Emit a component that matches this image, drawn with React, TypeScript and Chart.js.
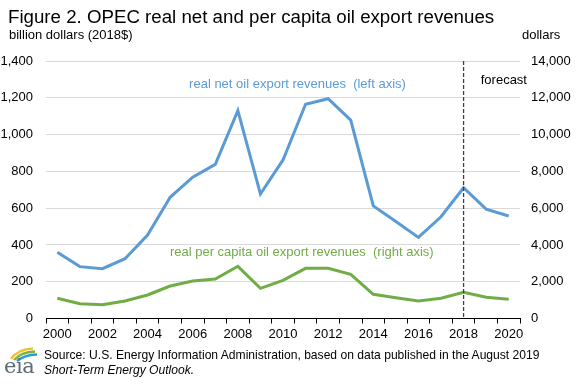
import React, { useEffect, useRef } from "react";
import { Chart, registerables } from "chart.js";

Chart.register(...registerables);

const years = [
  "2000", "2001", "2002", "2003", "2004", "2005", "2006", "2007", "2008", "2009",
  "2010", "2011", "2012", "2013", "2014", "2015", "2016", "2017", "2018", "2019", "2020",
];
// billion dollars (2018$), left axis
const netRevenue = [
  360, 282, 271, 325, 454, 659, 768, 838, 1130, 677,
  862, 1165, 1195, 1079, 612, 527, 441, 553, 711, 595, 557,
];
// dollars, right axis
const perCapitaRevenue = [
  1098, 805, 750, 951, 1278, 1767, 2039, 2148, 2838, 1642,
  2077, 2729, 2729, 2403, 1316, 1131, 951, 1098, 1424, 1153, 1044,
];
const leftAxisMax = 1400;
const leftAxisStep = 200;
const rightAxisMax = 14000;
const rightAxisStep = 2000;
const forecastYear = "2018";

const FONT = '"Liberation Sans", Arial, Helvetica, sans-serif';
const BLUE = "#5B9BD5";
const GREEN = "#70AD47";

const fmt = (v: number) => Number(v).toLocaleString("en-US");

const overlayPlugin = {
  id: "overlay",
  afterDatasetsDraw(chart: any) {
    const { ctx, chartArea, scales } = chart;
    const xs = scales.x;
    const yl = scales.y;
    const yr = scales.y1;
    const fx = xs.getPixelForValue(years.indexOf(forecastYear));
    ctx.save();
    ctx.strokeStyle = "#404040";
    ctx.lineWidth = 1.3;
    ctx.setLineDash([4, 2]);
    ctx.beginPath();
    ctx.moveTo(fx, chartArea.top);
    ctx.lineTo(fx, chartArea.bottom);
    ctx.stroke();
    ctx.setLineDash([]);
    ctx.font = `13px ${FONT}`;
    ctx.textBaseline = "middle";
    ctx.textAlign = "left";
    ctx.fillStyle = BLUE;
    ctx.fillText("real net oil export revenues  (left axis)", xs.getPixelForValue(5.84), yl.getPixelForValue(1275));
    ctx.fillStyle = GREEN;
    ctx.fillText("real per capita oil export revenues  (right axis)", xs.getPixelForValue(4.99), yr.getPixelForValue(3578));
    ctx.fillStyle = "#000";
    ctx.fillText("forecast", xs.getPixelForValue(18.76), yl.getPixelForValue(1297));
    ctx.restore();
  },
};

function EiaLogo() {
  return (
    <svg width="36" height="30" viewBox="0 0 36 30" style={{ position: "absolute", left: 3, top: 346 }}>
      <path d="M8 13 Q15 3 30 2.5" stroke="#F2C12E" strokeWidth="2.4" fill="none" />
      <path d="M11 14 Q18 6 32 5.5" stroke="#7CB342" strokeWidth="2.4" fill="none" />
      <path d="M14 15 Q21 9 34 8.5" stroke="#2E9BD6" strokeWidth="2.4" fill="none" />
      <text x="1" y="27" fontFamily='"DejaVu Serif", "Liberation Serif", serif' fontSize="21" fill="#5F6B73" letterSpacing="-0.5">eia</text>
    </svg>
  );
}

export default function App() {
  const canvasRef = useRef<HTMLCanvasElement | null>(null);

  useEffect(() => {
    if (!canvasRef.current) return;
    Chart.defaults.font.family = FONT;
    Chart.defaults.font.size = 13;
    Chart.defaults.color = "#000";
    const chart = new Chart(canvasRef.current, {
      type: "line",
      data: {
        labels: years,
        datasets: [
          {
            label: "real per capita oil export revenues (right axis)",
            data: perCapitaRevenue,
            borderColor: GREEN,
            backgroundColor: GREEN,
            borderWidth: 3,
            pointRadius: 0,
            tension: 0,
            yAxisID: "y1",
          },
          {
            label: "real net oil export revenues (left axis)",
            data: netRevenue,
            borderColor: BLUE,
            backgroundColor: BLUE,
            borderWidth: 3,
            pointRadius: 0,
            tension: 0,
            yAxisID: "y",
          },
        ],
      },
      options: {
        animation: false,
        responsive: false,
        maintainAspectRatio: false,
        devicePixelRatio: 1,
        layout: { padding: { top: 61, left: 0, right: 0, bottom: 0 } },
        plugins: {
          legend: { display: false },
          title: { display: false },
          tooltip: { enabled: false },
        },
        scales: {
          x: {
            type: "category",
            offset: true,
            grid: {
              offset: true,
              drawOnChartArea: false,
              drawTicks: true,
              tickLength: 5,
              color: "#000",
              lineWidth: 1,
            },
            border: { display: true, color: "#000", width: 1 },
            ticks: {
              autoSkip: false,
              maxRotation: 0,
              minRotation: 0,
              padding: 3,
              color: "#000",
              font: { size: 13 },
              callback: (_v: any, i: number) => (i % 2 === 0 ? years[i] : ""),
            },
            afterFit: (axis: any) => {
              axis.height = 65.5;
            },
          },
          y: {
            position: "left",
            min: 0,
            max: leftAxisMax,
            grid: {
              drawTicks: false,
              color: (c: any) => (c.tick && c.tick.value === 0 ? "rgba(0,0,0,0)" : "#D9D9D9"),
              lineWidth: 1,
            },
            border: { display: false },
            ticks: {
              stepSize: leftAxisStep,
              padding: 13,
              color: "#000",
              font: { size: 13 },
              callback: (v: any) => fmt(v),
            },
            afterFit: (axis: any) => {
              axis.width = 46;
            },
          },
          y1: {
            position: "right",
            min: 0,
            max: rightAxisMax,
            grid: { drawOnChartArea: false, drawTicks: false },
            border: { display: false },
            ticks: {
              stepSize: rightAxisStep,
              padding: 11,
              color: "#000",
              font: { size: 13 },
              callback: (v: any) => fmt(v),
            },
            afterFit: (axis: any) => {
              axis.width = 56;
            },
          },
        },
      },
      plugins: [overlayPlugin],
    });
    return () => chart.destroy();
  }, []);

  const textBase: React.CSSProperties = {
    position: "absolute",
    fontFamily: FONT,
    color: "#000",
    whiteSpace: "nowrap",
    lineHeight: 1,
    margin: 0,
  };

  return (
    <div style={{ position: "absolute", left: 0, top: 0, width: 576, height: 384, background: "#fff", overflow: "hidden" }}>
      <canvas ref={canvasRef} width={576} height={384} style={{ position: "absolute", left: 0, top: 0, width: 576, height: 384 }} />
      <div style={{ ...textBase, left: 8, top: 8, fontSize: 18.7 }}>Figure 2. OPEC real net and per capita oil export revenues</div>
      <div style={{ ...textBase, left: 9, top: 28, fontSize: 13 }}>billion dollars (2018$)</div>
      <div style={{ ...textBase, left: 522, top: 28, fontSize: 13 }}>dollars</div>
      <EiaLogo />
      <div style={{ ...textBase, left: 44, top: 349, fontSize: 12.1 }}>
        Source: U.S. Energy Information Administration, based on data published in the August 2019
      </div>
      <div style={{ ...textBase, left: 44, top: 364, fontSize: 12.1, fontStyle: "italic" }}>
        Short-Term Energy Outlook.
      </div>
    </div>
  );
}
